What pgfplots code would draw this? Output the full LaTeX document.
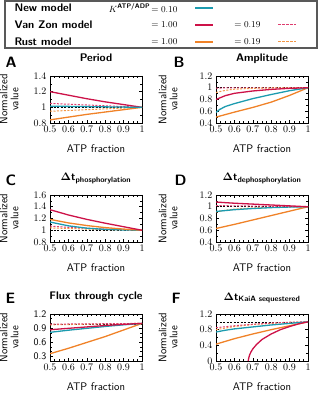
\documentclass[border=0pt]{standalone}
\usepackage{amsmath}
\usepackage{pgfplots}
\pgfplotsset{compat=1.18}
\renewcommand{\familydefault}{\sfdefault}

\definecolor{newc}{RGB}{28,155,175}
\definecolor{vzc}{RGB}{205,18,72}
\definecolor{vzdc}{RGB}{222,60,110}
\definecolor{rustc}{RGB}{240,130,40}
\definecolor{rustdc}{RGB}{242,150,70}

\pgfplotsset{
  panel/.style={
    scale only axis, width=92pt, height=47pt, anchor=south west,
    xmin=0.5, xmax=1, xtick={0.5,0.6,0.7,0.8,0.9,1},
    minor x tick num=3, minor y tick num=1,
    tick align=inside, major tick length=3pt, minor tick length=1.6pt,
    tick style={black, line width=0.5pt},
    axis line style={line width=0.8pt},
    tick label style={font=\fontsize{10}{10}\selectfont},
    label style={font=\fontsize{11}{11}\selectfont},
    xlabel={ATP fraction},
    x label style={at={(axis description cs:0.5,-0.55)}, anchor=center},
    ylabel={Normalized\\value},
    y label style={align=center, anchor=center},
    title style={font=\bfseries\fontsize{11}{11}\selectfont, anchor=base, at={(0.5,1)}, yshift=8pt},
    no markers,
  },
  yl/.style={y label style={at={(axis description cs:-0.445,0.5)}}},
  yr/.style={y label style={at={(axis description cs:-0.52,0.5)}}},
  newm/.style={color=newc, line width=1.3pt},
  vz/.style={color=vzc, line width=1.3pt},
  vzd/.style={color=vzdc, line width=1pt, dash pattern=on 2pt off 1.5pt},
  ru/.style={color=rustc, line width=1.3pt},
  rud/.style={color=rustdc, line width=1pt, dash pattern=on 2pt off 1.5pt},
  refl/.style={color=black, line width=0.6pt, dash pattern=on 2pt off 1.5pt},
}

\begin{document}
\begin{tikzpicture}
\useasboundingbox (0pt,0pt) rectangle (320pt,393pt);

% legend box
\draw[black!65, line width=1.2pt] (5pt,345pt) rectangle (317pt,392pt);
\begin{scope}[every node/.style={font=\fontsize{9.5}{11}\selectfont}]
\node[anchor=west, font=\bfseries\fontsize{11}{12}\selectfont] at (11pt,385pt) {New model};
\node[anchor=west, font=\bfseries\fontsize{11}{12}\selectfont] at (11pt,368pt) {Van Zon model};
\node[anchor=west, font=\bfseries\fontsize{11}{12}\selectfont] at (11pt,351pt) {Rust model};
\node[anchor=east] at (181pt,385pt) {$K^{\text{\bfseries ATP/ADP}}\!= 0.10$};
\node[anchor=east] at (181pt,368pt) {$= 1.00$};
\node[anchor=east] at (181pt,351pt) {$= 1.00$};
\node[anchor=east] at (264pt,368pt) {$= 0.19$};
\node[anchor=east] at (264pt,351pt) {$= 0.19$};
\end{scope}
\draw[newc, line width=1.3pt] (195pt,385pt) -- (213pt,385pt);
\draw[vzc, line width=1.3pt] (195pt,368pt) -- (213pt,368pt);
\draw[rustc, line width=1.3pt] (195pt,351pt) -- (213pt,351pt);
\draw[vzdc, line width=1pt, dash pattern=on 2.5pt off 1.5pt] (278pt,368pt) -- (296pt,368pt);
\draw[rustdc, line width=1pt, dash pattern=on 2.5pt off 1.5pt] (278pt,351pt) -- (296pt,351pt);

% panel letters
\begin{scope}[every node/.style={font=\bfseries\fontsize{15}{15}\selectfont, anchor=base west}]
\node at (2pt,325pt) {A}; \node at (170pt,325pt) {B};
\node at (2pt,207pt) {C}; \node at (171pt,207pt) {D};
\node at (2pt,89pt) {E};  \node at (168pt,89pt) {F};
\end{scope}

% A: Period
\begin{axis}[panel, yl, at={(50pt,270pt)}, ymin=0.8, ymax=1.4, ytick={0.8,1,1.2,1.4}, title={Period}]
\addplot[refl] coordinates {(0.5,1) (1,1)};
\addplot[vzd] coordinates {(0.5,1.05) (0.6,1.04) (0.7,1.03) (0.8,1.02) (0.9,1.01) (1,1)};
\addplot[rud] coordinates {(0.5,0.95) (0.6,0.96) (0.7,0.97) (0.8,0.98) (0.9,0.99) (1,1)};
\addplot[vz] coordinates {(0.5,1.20) (0.6,1.155) (0.7,1.11) (0.8,1.07) (0.9,1.035) (1,1)};
\addplot[ru] coordinates {(0.5,0.84) (0.6,0.875) (0.7,0.91) (0.8,0.94) (0.9,0.97) (1,1)};
\addplot[newm] coordinates {(0.5,1.015) (0.6,1.012) (0.7,1.009) (0.8,1.006) (0.9,1.003) (1,1)};
\end{axis}

% B: Amplitude
\begin{axis}[panel, yr, at={(216pt,270pt)}, ymin=0.4, ymax=1.2, ytick={0.4,0.6,0.8,1,1.2}, title={Amplitude}]
\addplot[refl] coordinates {(0.5,1) (1,1)};
\addplot[vzd] coordinates {(0.5,0.995) (0.6,0.997) (0.8,0.999) (1,1)};
\addplot[rud] coordinates {(0.5,0.92) (0.55,0.955) (0.6,0.975) (0.7,0.99) (0.8,0.996) (1,1)};
\addplot[ru] coordinates {(0.5,0.50) (0.6,0.585) (0.7,0.665) (0.8,0.755) (0.9,0.87) (1,1)};
\addplot[newm] coordinates {(0.5,0.58) (0.52,0.63) (0.55,0.68) (0.6,0.73) (0.7,0.815) (0.8,0.885) (0.9,0.95) (1,1)};
\addplot[vz] coordinates {(0.5,0.80) (0.55,0.865) (0.6,0.905) (0.7,0.945) (0.8,0.972) (0.9,0.99) (1,1)};
\end{axis}

% C: dt phosphorylation
\begin{axis}[panel, yl, at={(50pt,151pt)}, ymin=0.8, ymax=1.6, ytick={0.8,1,1.2,1.4,1.6},
  title={$\mathbf{\Delta}$t\textsubscript{phosphorylation}}]
\addplot[refl] coordinates {(0.5,1) (1,1)};
\addplot[rud] coordinates {(0.5,1.04) (0.6,1.03) (0.7,1.02) (0.8,1.01) (0.9,1.005) (1,1)};
\addplot[vzd] coordinates {(0.5,1.07) (0.6,1.05) (0.7,1.035) (0.8,1.02) (0.9,1.01) (1,1)};
\addplot[newm] coordinates {(0.5,1.14) (0.6,1.075) (0.7,1.035) (0.8,1.015) (0.9,1.005) (1,1)};
\addplot[ru] coordinates {(0.5,1.185) (0.6,1.125) (0.7,1.08) (0.8,1.045) (0.9,1.02) (1,1)};
\addplot[vz] coordinates {(0.5,1.35) (0.6,1.26) (0.7,1.185) (0.8,1.12) (0.9,1.06) (1,1)};
\end{axis}

% D: dt dephosphorylation
\begin{axis}[panel, yr, at={(216pt,151pt)}, ymin=0.4, ymax=1.2, ytick={0.4,0.6,0.8,1,1.2},
  title={$\mathbf{\Delta}$t\textsubscript{dephosphorylation}}]
\addplot[refl] coordinates {(0.5,1) (1,1)};
\addplot[rud] coordinates {(0.5,0.91) (0.55,0.94) (0.6,0.96) (0.7,0.98) (0.8,0.99) (1,1)};
\addplot[ru] coordinates {(0.5,0.63) (0.6,0.70) (0.7,0.775) (0.8,0.85) (0.9,0.925) (1,1)};
\addplot[newm] coordinates {(0.5,0.92) (0.6,0.95) (0.7,0.97) (0.8,0.985) (0.9,0.995) (1,1)};
\addplot[vzd] coordinates {(0.5,1.02) (0.7,1.012) (0.9,1.004) (1,1)};
\addplot[vz] coordinates {(0.5,1.08) (0.6,1.06) (0.7,1.045) (0.8,1.03) (0.9,1.015) (1,1)};
\end{axis}

% E: flux through cycle
\begin{axis}[panel, yl, at={(50pt,32pt)}, ymin=0.2, ymax=1.2, ytick={0.3,0.6,0.9,1.2},
  yticklabels={0.3,0.6,0.9,1.2}, minor y tick num=2, title={Flux through cycle}]
\addplot[refl] coordinates {(0.5,0.99) (1,0.99)};
\addplot[rud] coordinates {(0.5,0.97) (0.6,0.975) (0.8,0.99) (1,1)};
\addplot[vzd] coordinates {(0.5,0.985) (0.7,0.99) (1,1)};
\addplot[ru] coordinates {(0.5,0.355) (0.6,0.47) (0.7,0.595) (0.8,0.72) (0.9,0.86) (1,1)};
\addplot[newm] coordinates {(0.5,0.81) (0.6,0.855) (0.7,0.895) (0.8,0.935) (0.9,0.97) (1,1)};
\addplot[vz] coordinates {(0.5,0.865) (0.6,0.895) (0.7,0.925) (0.8,0.955) (0.9,0.98) (1,1)};
\end{axis}

% F: dt KaiA sequestered
\begin{axis}[panel, yr, at={(216pt,32pt)}, ymin=0, ymax=1.2, ytick={0,0.4,0.8,1.2},
  title={$\mathbf{\Delta}$t\textsubscript{KaiA sequestered}}]
\addplot[refl] coordinates {(0.5,0.98) (1,0.98)};
\addplot[rud] coordinates {(0.5,0.80) (0.6,0.88) (0.7,0.93) (0.8,0.96) (0.9,0.985) (1,1)};
\addplot[vzd] coordinates {(0.5,0.85) (0.6,0.90) (0.7,0.94) (0.8,0.97) (0.9,0.99) (1,1)};
\addplot[ru] coordinates {(0.5,0.43) (0.6,0.57) (0.7,0.69) (0.8,0.80) (0.9,0.90) (1,1)};
\addplot[newm] coordinates {(0.5,0.74) (0.55,0.785) (0.6,0.82) (0.7,0.87) (0.8,0.92) (0.9,0.96) (1,1)};
\addplot[vz] coordinates {(0.675,0) (0.678,0.08) (0.683,0.16) (0.69,0.23) (0.70,0.31) (0.72,0.42) (0.75,0.55) (0.8,0.69) (0.85,0.80) (0.9,0.88) (0.95,0.95) (1,1)};
\end{axis}
\end{tikzpicture}
\end{document}
